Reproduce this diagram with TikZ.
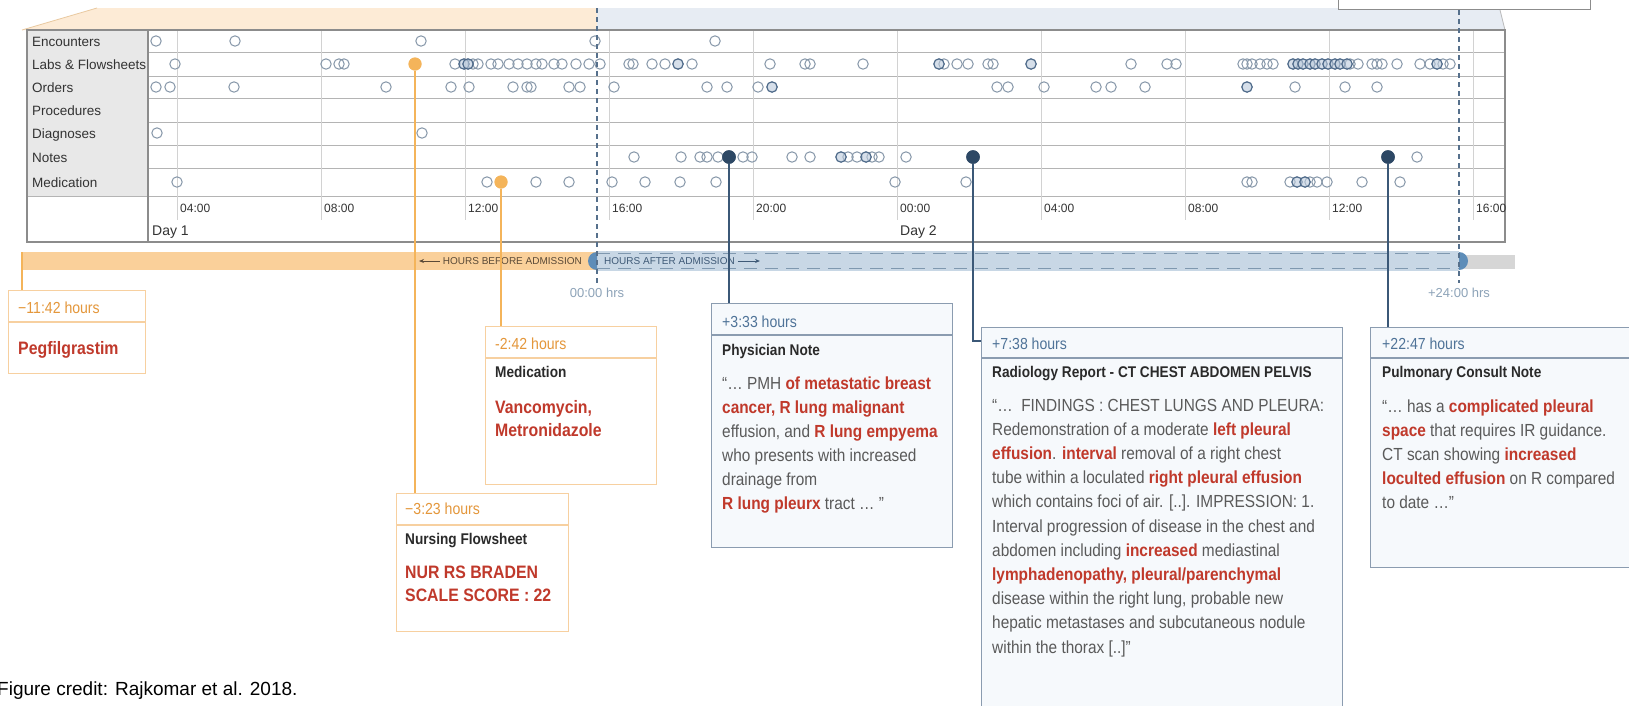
\documentclass[tikz,border=0pt]{standalone}
\usepackage{fontspec}
\setmainfont{Liberation Sans}
\newfontfamily\cnd[FakeStretch=0.88]{Liberation Sans}
\usetikzlibrary{arrows.meta}

\definecolor{bandorange}{HTML}{FDEBD6}
\definecolor{bandedge}{HTML}{E9C9A0}
\definecolor{bandblue}{HTML}{E7ECF3}
\definecolor{tableborder}{HTML}{8C8C8C}
\definecolor{rowgray}{HTML}{B4B4B4}
\definecolor{gridgray}{HTML}{D2D2D2}
\definecolor{labelgray}{HTML}{E8E8E8}
\definecolor{labeltext}{HTML}{333333}
\definecolor{evtgray}{HTML}{8596A8}
\definecolor{evtdark}{HTML}{4C6888}
\definecolor{evtfill}{HTML}{BCCBDC}
\definecolor{oline}{HTML}{F4B45A}
\definecolor{oborder}{HTML}{F7D0A0}
\definecolor{otext}{HTML}{E4973B}
\definecolor{obar}{HTML}{FAD09A}
\definecolor{navyline}{HTML}{3B5877}
\definecolor{navydot}{HTML}{2D4865}
\definecolor{bborder}{HTML}{8B9CB0}
\definecolor{bfill}{HTML}{F6F9FC}
\definecolor{btext}{HTML}{4F7398}
\definecolor{bbar}{HTML}{C8D7E5}
\definecolor{bdash}{HTML}{7F98AF}
\definecolor{bcap}{HTML}{5E8DB8}
\definecolor{graybar}{HTML}{D6D6D6}
\definecolor{admdash}{HTML}{56708C}
\definecolor{hrstext}{HTML}{8DA3B8}
\definecolor{keyred}{HTML}{C0392B}
\definecolor{titletext}{HTML}{2A2A2A}
\definecolor{bodytext}{HTML}{5A5A5A}
\definecolor{beforetext}{HTML}{5B4A37}
\definecolor{aftertext}{HTML}{3F5A77}

\newcommand{\keyw}[1]{{\bfseries\color{keyred}#1}}

\begin{document}
\begin{tikzpicture}[x=1pt, y=-1pt,
  rowlab/.style={anchor=base west, inner sep=0pt, font=\fontsize{13.5}{16}\selectfont, text=labeltext},
  ticklab/.style={anchor=base west, inner sep=0pt, font=\fontsize{12}{14}\selectfont, text=labeltext},
  daylab/.style={anchor=base west, inner sep=0pt, font=\fontsize{14}{16}\selectfont, text=labeltext},
  rowline/.style={draw=rowgray, line width=0.8pt},
  gridline/.style={draw=gridgray, line width=0.8pt},
  frame/.style={draw=tableborder, line width=1.2pt},
  evt/.style={draw=evtgray, line width=1pt},
  evtstrong/.style={draw=evtdark, fill=evtfill, fill opacity=0.6, line width=1.2pt},
  odot/.style={circle, fill=oline, inner sep=0pt, minimum size=13pt},
  ndot/.style={circle, fill=navydot, inner sep=0pt, minimum size=13.5pt},
  oconn/.style={draw=oline, line width=2pt},
  nconn/.style={draw=navyline, line width=2pt},
  admline/.style={draw=admdash, line width=1.1pt, dash pattern=on 5pt off 4pt},
  hrslab/.style={inner sep=0pt, font=\fontsize{13}{15}\selectfont, text=hrstext},
  barlab/.style={inner sep=0pt, font=\fontsize{10}{12}\selectfont},
  obox/.style={draw=oborder, fill=white, line width=1.2pt, inner sep=0pt, anchor=north west},
  bbox/.style={draw=bborder, fill=bfill, line width=1.2pt, inner sep=0pt, anchor=north west},
  odiv/.style={draw=oborder, line width=1.2pt},
  bdiv/.style={draw=bborder, line width=1.2pt},
  ohdr/.style={anchor=base west, inner sep=0pt, font=\cnd\fontsize{16}{19}\selectfont, text=otext},
  bhdr/.style={anchor=base west, inner sep=0pt, font=\cnd\fontsize{16}{19}\selectfont, text=btext},
  ttl/.style={anchor=base west, inner sep=0pt, font=\cnd\bfseries\fontsize{15.5}{19}\selectfont, text=titletext},
  bigkey/.style={anchor=base west, inner sep=0pt, font=\cnd\bfseries\fontsize{18}{22}\selectfont, text=keyred},
  bodyln/.style={anchor=base west, inner sep=0pt, font=\cnd\fontsize{17.5}{21}\selectfont, text=bodytext}
]
\useasboundingbox (0,0) rectangle (1629,705);
\fill[white] (0,0) rectangle (1629,705);

% perspective band above the table
\fill[bandorange] (22,30) -- (97,8) -- (597,8) -- (597,30) -- cycle;
\draw[draw=bandedge, line width=0.8pt] (22,30) -- (97,8);
\fill[bandblue] (597,8) -- (1500,8) -- (1505,30) -- (597,30) -- cycle;
\draw[draw=tableborder!60, line width=0.8pt] (1500,10) -- (1505,30);
\node[draw=tableborder, fill=white, line width=1pt, inner sep=0pt,
      minimum width=252pt, minimum height=16pt, anchor=south west] (zoombox) at (1338,10) {};

% event table
\fill[labelgray] (27,30) rectangle (148,196);
\foreach \yy in {52,76,98,122,145,168} \draw[rowline] (148,\yy) -- (1505,\yy);
\draw[rowline] (27,196) -- (1505,196);
\foreach \xx in {177,321,...,1473} \draw[gridline] (\xx,30) -- (\xx,220);
\draw[frame] (27,30) rectangle (1505,242);
\draw[frame] (148,30) -- (148,242);

\node[rowlab] (lab-enc) at (32,46) {Encounters};
\node[rowlab] (lab-labs) at (32,69) {Labs \& Flowsheets};
\node[rowlab] (lab-ord) at (32,92) {Orders};
\node[rowlab] (lab-proc) at (32,115) {Procedures};
\node[rowlab] (lab-diag) at (32,138) {Diagnoses};
\node[rowlab] (lab-notes) at (32,162) {Notes};
\node[rowlab] (lab-med) at (32,187) {Medication};

\foreach \xx/\tt [count=\i] in {177/04:00, 321/08:00, 465/12:00, 609/16:00, 753/20:00,
    897/00:00, 1041/04:00, 1185/08:00, 1329/12:00, 1473/16:00}
  \node[ticklab] (tick\i) at (\xx+3,212) {\tt};
\node[daylab] (day1) at (152,235) {Day 1};
\node[daylab] (day2) at (900,235) {Day 2};

% recorded events, one row at a time
\foreach \xx in {156,235,421,595,715} \draw[evt] (\xx,41) circle (5.2pt);
\foreach \xx in {175,326,339,344,455,473,478,491,498,509,518,527,536,542,554,562,576,589,600,
    629,633,652,665,692,770,805,810,863,944,957,968,988,993,1131,1167,1176,1243,1247,1252,
    1260,1267,1273,1350,1358,1372,1377,1382,1397,1420,1430,1443,1450}
  \draw[evt] (\xx,64) circle (5.2pt);
\foreach \xx in {464,468,678,939,1031,1293,1298,1303,1310,1315,1322,1328,1335,1340,1347,1437}
  \draw[evtstrong] (\xx,64) circle (5.2pt);
\foreach \xx in {156,170,234,386,451,469,513,527,531,569,580,614,707,727,758,997,1008,1044,
    1096,1111,1145,1295,1345,1377}
  \draw[evt] (\xx,87) circle (5.2pt);
\foreach \xx in {772,1247} \draw[evtstrong] (\xx,87) circle (5.2pt);
\foreach \xx in {157,422} \draw[evt] (\xx,133) circle (5.2pt);
\foreach \xx in {634,681,700,707,718,743,752,792,810,848,857,872,879,906,1417}
  \draw[evt] (\xx,157) circle (5.2pt);
\foreach \xx in {841,866} \draw[evtstrong] (\xx,157) circle (5.2pt);
\foreach \xx in {177,487,536,569,612,645,680,716,895,966,1247,1252,1290,1310,1317,1327,1362,1400}
  \draw[evt] (\xx,182) circle (5.2pt);
\foreach \xx in {1297,1305} \draw[evtstrong] (\xx,182) circle (5.2pt);

% time bar
\fill[obar] (22,252) rectangle (597,270);
\fill[graybar] (1459,255) rectangle (1515,269);
\fill[bbar] (597,251) rectangle (1459,271);
\draw[draw=bdash, line width=1pt, dash pattern=on 13pt off 8pt] (597,253.5) -- (1459,253.5);
\draw[draw=bdash, line width=1pt, dash pattern=on 13pt off 8pt] (597,268.5) -- (1459,268.5);
\fill[bcap] (597,252) arc[start angle=90, end angle=270, radius=9pt] -- cycle;
\fill[bcap] (1459,252) arc[start angle=90, end angle=-90, radius=9pt] -- cycle;

\node[barlab, anchor=east, text=beforetext] (before) at (582,261) {HOURS BEFORE ADMISSION};
\coordinate (beforetip) at (419,261);
\draw[draw=beforetext, line width=0.9pt, -{Stealth[length=5pt,width=4pt]}] ([xshift=-3pt]before.west) -- (beforetip);
\node[barlab, anchor=west, text=aftertext] (after) at (604,261) {HOURS AFTER ADMISSION};
\coordinate (aftertip) at (760,261);
\draw[draw=aftertext, line width=0.9pt, -{Stealth[length=5pt,width=4pt]}] ([xshift=3pt]after.east) -- (aftertip);

% admission and +24 h markers
\draw[admline] (597,8) -- (597,283);
\draw[admline] (1459,10) -- (1459,283);
\node[hrslab] (zerohrs) at (597,293) {00:00 hrs};
\node[hrslab] (plushrs) at (1459,293) {+24:00 hrs};

% callout boxes
\node[obox, minimum width=137pt, minimum height=83pt] (pegbox) at (8,290) {};
\node[obox, minimum width=171pt, minimum height=158pt] (medbox) at (485,326) {};
\node[obox, minimum width=172pt, minimum height=138pt] (nurbox) at (396,493) {};
\node[bbox, minimum width=241pt, minimum height=244pt] (phybox) at (711,303) {};
\node[bbox, minimum width=361pt, minimum height=400pt] (radbox) at (981,327) {};
\node[bbox, minimum width=280pt, minimum height=240pt] (pulbox) at (1370,327) {};
\draw[odiv] (8,322) -- (145,322);
\draw[odiv] (485,358) -- (656,358);
\draw[odiv] (396,525) -- (568,525);
\draw[bdiv] (711,335) -- (952,335);
\draw[bdiv] (981,358) -- (1342,358);
\draw[bdiv] (1370,358) -- (1650,358);

% connectors from events to their callouts
\node[odot] (nurdot) at (415,64) {};
\node[odot] (meddot) at (501,182) {};
\node[ndot] (phydot) at (729,157) {};
\node[ndot] (raddot) at (973,157) {};
\node[ndot] (puldot) at (1388,157) {};
\coordinate (pegstart) at (22,252);
\coordinate (radjoin) at (981,341);
\draw[oconn] (pegstart) -- (pegstart |- pegbox.north);
\draw[oconn] (nurdot) -- (nurdot |- nurbox.north);
\draw[oconn] (meddot) -- (meddot |- medbox.north);
\draw[nconn] (phydot) -- (phydot |- phybox.north);
\draw[nconn] (raddot) |- (radjoin);
\draw[nconn] (puldot) -- (puldot |- pulbox.north);
\node[odot] at (nurdot) {};
\node[odot] at (meddot) {};
\node[ndot] at (phydot) {};
\node[ndot] at (raddot) {};
\node[ndot] at (puldot) {};

% callout texts
\node[ohdr] (peg-h) at (18,313) {−11:42 hours};
\node[bigkey] (peg-k) at (18,354) {Pegfilgrastim};

\node[ohdr] (med-h) at (495,349) {-2:42 hours};
\node[ttl] (med-t) at (495,377.5) {Medication};
\node[bigkey] (med-k1) at (495,413) {Vancomycin,};
\node[bigkey] (med-k2) at (495,436) {Metronidazole};

\node[ohdr] (nur-h) at (405,514.5) {−3:23 hours};
\node[ttl] (nur-t) at (405,544) {Nursing Flowsheet};
\node[bigkey] (nur-k1) at (405,578) {NUR RS BRADEN};
\node[bigkey] (nur-k2) at (405,601) {SCALE SCORE : 22};

\node[bhdr] (phy-h) at (722,327.5) {+3:33 hours};
\node[ttl] (phy-t) at (722,355.5) {Physician Note};
\node[bodyln] (phy1) at (722,389) {“… PMH \keyw{of metastatic breast}};
\node[bodyln] (phy2) at (722,413) {\keyw{cancer, R lung malignant}};
\node[bodyln] (phy3) at (722,437) {effusion, and \keyw{R lung empyema}};
\node[bodyln] (phy4) at (722,461) {who presents with increased};
\node[bodyln] (phy5) at (722,485) {drainage from};
\node[bodyln] (phy6) at (722,509) {\keyw{R lung pleurx} tract … ”};

\node[bhdr] (rad-h) at (992,349) {+7:38 hours};
\node[ttl] (rad-t) at (992,377.5) {Radiology Report - CT CHEST ABDOMEN PELVIS};
\node[bodyln] (rad1) at (992,411) {“…\ \ FINDINGS : CHEST LUNGS AND PLEURA:};
\node[bodyln] (rad2) at (992,435.2) {Redemonstration of a moderate \keyw{left pleural}};
\node[bodyln] (rad3) at (992,459.4) {\keyw{effusion}. \keyw{interval} removal of a right chest};
\node[bodyln] (rad4) at (992,483.6) {tube within a loculated \keyw{right pleural effusion}};
\node[bodyln] (rad5) at (992,507.8) {which contains foci of air. [..]. IMPRESSION: 1.};
\node[bodyln] (rad6) at (992,532) {Interval progression of disease in the chest and};
\node[bodyln] (rad7) at (992,556.2) {abdomen including \keyw{increased} mediastinal};
\node[bodyln] (rad8) at (992,580.4) {\keyw{lymphadenopathy, pleural/parenchymal}};
\node[bodyln] (rad9) at (992,604.6) {disease within the right lung, probable new};
\node[bodyln] (rad10) at (992,628.8) {hepatic metastases and subcutaneous nodule};
\node[bodyln] (rad11) at (992,653) {within the thorax [..]”};

\node[bhdr] (pul-h) at (1382,349) {+22:47 hours};
\node[ttl] (pul-t) at (1382,377.5) {Pulmonary Consult Note};
\node[bodyln] (pul1) at (1382,412) {“… has a \keyw{complicated pleural}};
\node[bodyln] (pul2) at (1382,436) {\keyw{space} that requires IR guidance.};
\node[bodyln] (pul3) at (1382,460) {CT scan showing \keyw{increased}};
\node[bodyln] (pul4) at (1382,484) {\keyw{loculted effusion} on R compared};
\node[bodyln] (pul5) at (1382,508) {to date …”};

% source line
\node[anchor=base west, inner sep=0pt, font=\fontsize{19}{22}\selectfont, text=black]
  (credit) at (-3,695) {Figure credit: Rajkomar et al. 2018.};
\end{tikzpicture}
\end{document}
